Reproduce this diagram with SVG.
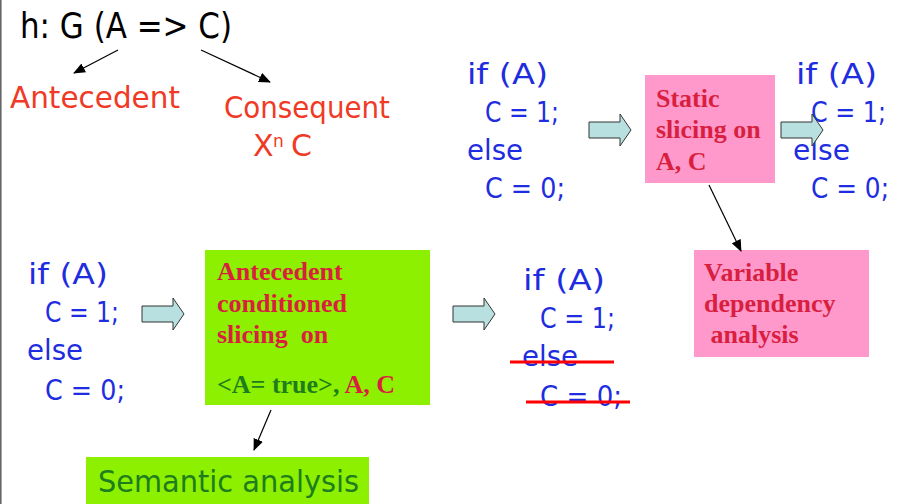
<svg xmlns="http://www.w3.org/2000/svg" width="898" height="504" viewBox="0 0 898 504">
<style>
.cm{font-family:"DejaVu Sans",sans-serif;}
.code{font-family:"DejaVu Sans",sans-serif;font-size:28px;fill:#1f2de0;}
.bs{font-family:"Liberation Serif",serif;font-weight:bold;font-size:26px;fill:#d91f3f;}
.red{fill:#f03a26;font-size:30px;}
.ln{stroke:#000;stroke-width:1.2;fill:none;marker-end:url(#ah);}
.strike{stroke:#ff0000;stroke-width:3;}
.ba{fill:#b9e0e0;stroke:#333;stroke-width:1;}
.pink{fill:#ff99cc;}
.green{fill:#8cf000;}
</style>
<defs>
<marker id="ah" markerUnits="userSpaceOnUse" markerWidth="12" markerHeight="10" refX="11" refY="5" orient="auto">
<path d="M0,0 L12,5 L0,10 Z" fill="#000"/>
</marker>
<path id="barrow" class="ba" d="M0,-8 H31 V-16 L42,0 L31,16 V8 H0 Z"/>
</defs>
<rect x="0" y="0" width="898" height="504" fill="#fff"/>
<line x1="0.8" y1="0" x2="0.8" y2="504" stroke="#666" stroke-width="1.6"/>

<g id="hypothesis">
<text class="cm" x="20" y="38" font-size="36" fill="#000" textLength="212" lengthAdjust="spacingAndGlyphs">h: G (A =&gt; C)</text>
</g>
<g id="antecedent">
<text class="cm red" x="10" y="108" textLength="170" lengthAdjust="spacingAndGlyphs">Antecedent</text>
</g>
<g id="consequent">
<text class="cm red" x="224" y="118" textLength="166" lengthAdjust="spacingAndGlyphs">Consequent</text>
<text class="cm red" y="156"><tspan x="253">X</tspan><tspan x="273" y="147" font-size="17">n</tspan><tspan x="291" y="156">C</tspan></text>
</g>

<g id="code-top-left" class="code">
<text x="467" y="84" textLength="81" lengthAdjust="spacingAndGlyphs">if (A)</text>
<text x="485" y="122" textLength="74" lengthAdjust="spacingAndGlyphs">C = 1;</text>
<text x="467" y="160" textLength="56" lengthAdjust="spacingAndGlyphs">else</text>
<text x="485" y="198" textLength="80" lengthAdjust="spacingAndGlyphs">C = 0;</text>
</g>

<g id="static-slicing">
<rect class="pink" x="645" y="75" width="130" height="108"/>
<text class="bs" x="656" y="107">Static</text>
<text class="bs" x="656" y="138">slicing on</text>
<text class="bs" x="656" y="170">A, C</text>
</g>

<g id="code-top-right" class="code">
<text x="796" y="84" textLength="81" lengthAdjust="spacingAndGlyphs">if (A)</text>
<text x="811" y="122" textLength="75" lengthAdjust="spacingAndGlyphs">C = 1;</text>
<text x="793" y="160" textLength="57" lengthAdjust="spacingAndGlyphs">else</text>
<text x="811" y="198" textLength="78" lengthAdjust="spacingAndGlyphs">C = 0;</text>
</g>

<g id="variable-dependency">
<rect class="pink" x="694" y="250" width="175" height="107"/>
<text class="bs" x="704" y="281">Variable</text>
<text class="bs" x="704" y="312">dependency</text>
<text class="bs" x="704" y="343" xml:space="preserve"> analysis</text>
</g>

<g id="code-bottom-left" class="code">
<text x="28" y="284" textLength="80" lengthAdjust="spacingAndGlyphs">if (A)</text>
<text x="45" y="322" textLength="74" lengthAdjust="spacingAndGlyphs">C = 1;</text>
<text x="27" y="360" textLength="56" lengthAdjust="spacingAndGlyphs">else</text>
<text x="45" y="400" textLength="80" lengthAdjust="spacingAndGlyphs">C = 0;</text>
</g>

<g id="antecedent-slicing">
<rect class="green" x="205" y="250" width="225" height="155"/>
<text class="bs" x="217" y="280">Antecedent</text>
<text class="bs" x="217" y="312">conditioned</text>
<text class="bs" x="217" y="343" xml:space="preserve">slicing  on</text>
<text class="bs" x="217" y="393"><tspan fill="#1e7d1e">&lt;A= true&gt;,</tspan> A, C</text>
</g>

<g id="semantic-analysis">
<rect class="green" x="86" y="457" width="283" height="47"/>
<text class="cm" x="98" y="492" font-size="31" fill="#1e7d1e" textLength="261" lengthAdjust="spacingAndGlyphs">Semantic analysis</text>
</g>

<g id="code-bottom-middle" class="code">
<text x="523" y="290" textLength="82" lengthAdjust="spacingAndGlyphs">if (A)</text>
<text x="540" y="328" textLength="75" lengthAdjust="spacingAndGlyphs">C = 1;</text>
<text x="522" y="366" textLength="56" lengthAdjust="spacingAndGlyphs">else</text>
<text x="540" y="406" textLength="82" lengthAdjust="spacingAndGlyphs">C = 0;</text>
<line class="strike" x1="510" y1="362" x2="614" y2="362"/>
<line class="strike" x1="526" y1="402" x2="630" y2="402"/>
</g>

<g id="connectors">
<line class="ln" x1="118" y1="50" x2="74" y2="73"/>
<line class="ln" x1="201" y1="50" x2="270" y2="82"/>
<line class="ln" x1="709" y1="185" x2="741" y2="251"/>
<line class="ln" x1="271" y1="410" x2="254" y2="450"/>
<use href="#barrow" x="589" y="130"/>
<use href="#barrow" x="781" y="130"/>
<use href="#barrow" x="142" y="314"/>
<use href="#barrow" x="453" y="314"/>
</g>
</svg>
